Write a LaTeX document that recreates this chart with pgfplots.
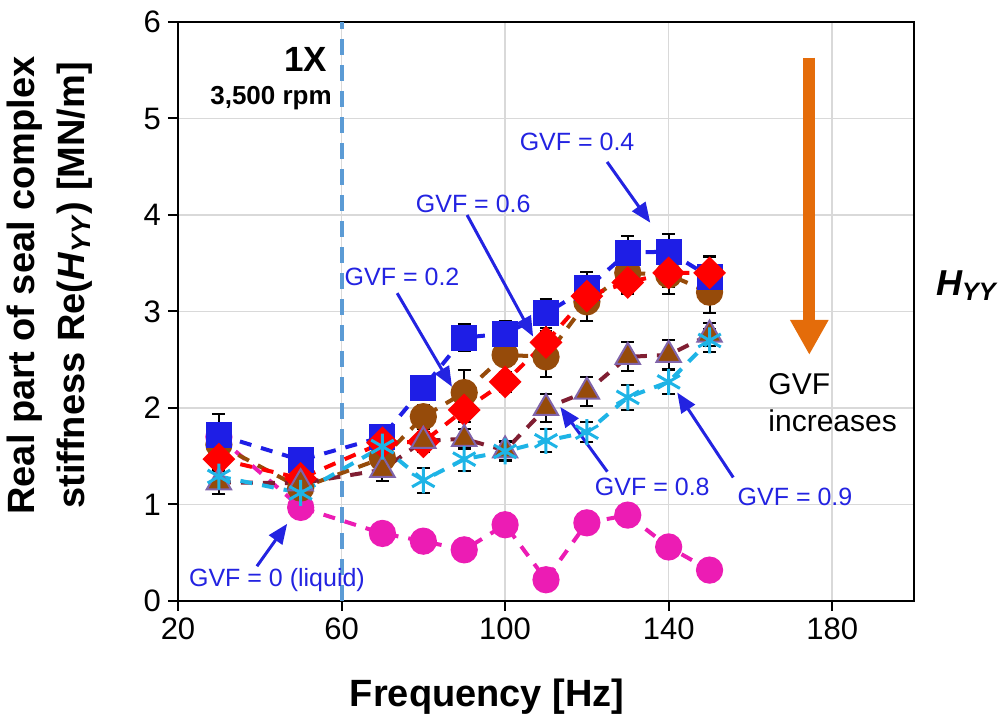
\documentclass[border=0pt]{standalone}
\usepackage{fontspec}
\setmainfont{Liberation Sans}
\usepackage{pgfplots}
\usepackage{pgfplotstable}
\pgfplotsset{compat=1.18}
\usetikzlibrary{arrows.meta}

\definecolor{cmag}{RGB}{236,28,180}
\definecolor{cred}{RGB}{255,0,0}
\definecolor{cblue}{RGB}{30,30,230}
\definecolor{cbrown}{RGB}{150,75,10}
\definecolor{cmaroon}{RGB}{128,30,50}
\definecolor{cpurple}{RGB}{128,100,170}
\definecolor{ccyan}{RGB}{30,180,230}
\definecolor{cann}{RGB}{35,35,225}
\definecolor{corange}{RGB}{228,108,10}
\definecolor{cvline}{RGB}{91,155,213}
\definecolor{cgrid}{RGB}{217,217,217}

\pgfplotstableread{
x y
30 1.70
50 0.97
70 0.70
80 0.62
90 0.53
100 0.79
110 0.22
120 0.81
130 0.89
140 0.56
150 0.32
}\tzero
\pgfplotstableread{
x y e
30 1.47 0.10
50 1.27 0.10
70 1.64 0.10
80 1.65 0.10
90 1.98 0.13
100 2.27 0.10
110 2.68 0.12
120 3.16 0.12
130 3.30 0.12
140 3.40 0.15
150 3.40 0.18
}\ttwo
\pgfplotstableread{
x y e
30 1.72 0.22
50 1.46 0.10
70 1.70 0.10
80 2.21 0.10
90 2.73 0.14
100 2.77 0.13
110 2.98 0.15
120 3.24 0.17
130 3.61 0.17
140 3.62 0.18
150 3.36 0.20
}\tfour
\pgfplotstableread{
x y e
30 1.62 0.10
50 1.17 0.10
70 1.48 0.10
80 1.91 0.12
90 2.16 0.23
100 2.55 0.12
110 2.53 0.21
120 3.10 0.20
130 3.40 0.20
140 3.38 0.20
150 3.20 0.22
}\tsix
\pgfplotstableread{
x y e
30 1.23 0.12
50 1.22 0.10
70 1.36 0.12
80 1.66 0.12
90 1.68 0.10
100 1.56 0.10
110 2.00 0.15
120 2.17 0.15
130 2.53 0.15
140 2.55 0.15
150 2.76 0.12
}\teight
\pgfplotstableread{
x y e
30 1.29 0.10
50 1.12 0.10
70 1.60 0.10
80 1.25 0.13
90 1.47 0.12
100 1.55 0.10
110 1.66 0.12
120 1.75 0.10
130 2.11 0.13
140 2.27 0.12
150 2.70 0.12
}\tnine

\begin{document}
\begin{tikzpicture}
\useasboundingbox (-89pt,-60pt) rectangle (412.5pt,300.5pt);
\begin{axis}[
  at={(0,0)}, anchor=south west,
  width=368pt, height=289.5pt, scale only axis,
  xmin=20, xmax=200, ymin=0, ymax=6,
  xtick={20,60,100,140,180}, ytick={0,1,2,3,4,5,6},
  grid=major, major grid style={cgrid, line width=0.75pt},
  axis line style={black, line width=1.1pt},
  tick align=outside, tick pos=left, major tick length=5pt,
  tick style={black, line width=1pt},
  ticklabel style={font=\fontsize{15.5}{18}\selectfont},
  /pgf/number format/assume math mode=true,
  clip=false,
  xlabel={Frequency [Hz]},
  xlabel style={font=\fontsize{19}{23}\selectfont\bfseries, at={(axis description cs:0.42,0)}, anchor=center, yshift=-48pt},
  ylabel={Real part of seal complex\\stiffness Re(\textit{H}\textsubscript{\textit{YY}}) [MN/m]},
  ylabel style={font=\fontsize{19}{25}\selectfont\bfseries, align=center, at={(axis description cs:-0.175,0.545)}, anchor=center},
  errbar/.style={error bars/.cd, y dir=both, y explicit,
     error bar style={solid, black, line width=1pt},
     error mark options={solid, black, rotate=90, mark size=3.2pt, line width=1pt}},
]
\draw[cvline, line width=2pt, dash pattern=on 8pt off 5pt] (axis cs:60,0) -- (axis cs:60,6);

\addplot[cmag, line width=2pt, dash pattern=on 6pt off 5pt, mark=*, mark size=5.8pt,
  mark options={solid, fill=cmag, draw=cmag}] table[x=x,y=y]{\tzero};

\addplot[cbrown, line width=2pt, dash pattern=on 6pt off 5pt, mark=*, mark size=5.8pt,
  mark options={solid, fill=cbrown, draw=cbrown}, errbar] table[x=x,y=y,y error=e]{\tsix};

\addplot[cblue, line width=2pt, dash pattern=on 6pt off 5pt, mark=square*, mark size=6.25pt,
  mark options={solid, fill=cblue, draw=cblue, line width=0.5pt}, errbar] table[x=x,y=y,y error=e]{\tfour};

\addplot[cred, line width=2pt, dash pattern=on 6pt off 5pt, mark=square*, mark size=4.8pt,
  mark options={solid, fill=cred, draw=cred, rotate=45}, errbar] table[x=x,y=y,y error=e]{\ttwo};

\addplot[cmaroon, line width=2pt, dash pattern=on 6pt off 5pt, mark=triangle*, mark size=7pt,
  mark options={solid, fill=cbrown, draw=cpurple, line width=1pt}, errbar] table[x=x,y=y,y error=e]{\teight};

\addplot[ccyan, line width=2pt, dash pattern=on 6pt off 5pt, mark=asterisk, mark size=6.5pt,
  mark options={solid, draw=ccyan, line width=1.5pt}, errbar] table[x=x,y=y,y error=e]{\tnine};

% annotations
\node[anchor=east, inner sep=0, font=\bfseries\fontsize{17.5}{20}\selectfont] at (axis cs:56.5,5.61) {1X};
\node[anchor=east, inner sep=0, font=\bfseries\fontsize{13}{15}\selectfont] at (axis cs:57.7,5.21) {3,500 rpm};

\begin{scope}[cann, font=\fontsize{12.5}{15}\selectfont]
\node at (axis cs:117.6,4.76) {GVF = 0.4};
\draw[line width=1.5pt, -{Triangle[length=10pt,width=8pt]}] (axis cs:124.95,4.55) -- (axis cs:135.5,3.92);
\node at (axis cs:92.2,4.12) {GVF = 0.6};
\draw[line width=1.5pt, -{Triangle[length=10pt,width=8pt]}] (axis cs:90.7,4.00) -- (axis cs:106.85,2.74);
\node at (axis cs:74.8,3.36) {GVF = 0.2};
\draw[line width=1.5pt, -{Triangle[length=10pt,width=8pt]}] (axis cs:73.6,3.19) -- (axis cs:87.0,2.22);
\node at (axis cs:136.0,1.18) {GVF = 0.8};
\draw[line width=1.5pt, -{Triangle[length=10pt,width=8pt]}] (axis cs:125.0,1.34) -- (axis cs:113.5,2.01);
\node at (axis cs:170.9,1.08) {GVF = 0.9};
\draw[line width=1.5pt, -{Triangle[length=10pt,width=8pt]}] (axis cs:155.8,1.28) -- (axis cs:142.1,2.16);
\node at (axis cs:44.2,0.22) {GVF = 0 (liquid)};
\draw[line width=1.5pt, -{Triangle[length=10pt,width=8pt]}] (axis cs:39.3,0.36) -- (axis cs:46.7,0.80);
\end{scope}

\draw[corange, line width=6pt, -{Triangle[length=17.5pt,width=18pt]}] (axis cs:174.4,5.63) -- (axis cs:174.4,2.55);
\node[anchor=west, align=left, inner sep=0, font=\fontsize{15}{18.5}\selectfont] at (axis cs:164.3,2.05) {GVF\\increases};
\node[font=\bfseries\itshape\fontsize{18}{21}\selectfont] at (axis cs:212.8,3.27) {H\textsubscript{YY}};
\end{axis}
\end{tikzpicture}
\end{document}
